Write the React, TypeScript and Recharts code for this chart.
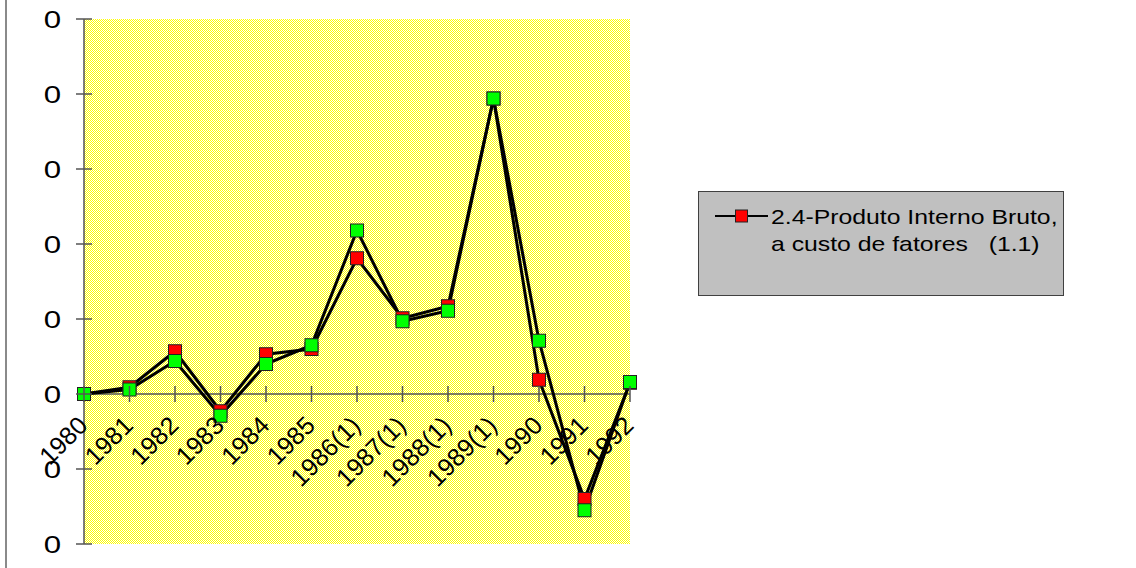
import { CartesianGrid, Legend, Line, LineChart, ReferenceLine, XAxis, YAxis } from "recharts";

const years = [
  "1980", "1981", "1982", "1983", "1984", "1985", "1986(1)",
  "1987(1)", "1988(1)", "1989(1)", "1990", "1991", "1992"
];
const pibCustoFatores = [0, 0.09, 0.57, -0.23, 0.53, 0.6, 1.81, 1.01, 1.17, 3.94, 0.19, -1.4, 0.15];
const pibPrecosMercado = [0, 0.06, 0.44, -0.29, 0.4, 0.65, 2.18, 0.97, 1.11, 3.94, 0.71, -1.55, 0.16];
const yTicks = [-2, -1, 0, 1, 2, 3, 4, 5];
const legendLines = ["2.4-Produto Interno Bruto,", "a custo de fatores   (1.1)"];

const W = 1136;
const H = 568;
const PLOT_LEFT = 84;
const PLOT_TOP = 19;
const PLOT_BOTTOM = 544;
const Y_MIN = -2;
const Y_MAX = 5;
const ZERO_Y = PLOT_TOP + (Y_MAX / (Y_MAX - Y_MIN)) * (PLOT_BOTTOM - PLOT_TOP);
const FONT = '"Liberation Sans", Arial, sans-serif';
const AXIS = "#555";

const data = years.map((year, i) => ({
  year,
  custo: pibCustoFatores[i],
  mercado: pibPrecosMercado[i]
}));

function SquareDot(color: string) {
  return (props: any) => {
    const { cx, cy, index } = props;
    if (cx == null || cy == null) return <g key={index} />;
    return (
      <rect
        key={index}
        x={cx - 6.5}
        y={cy - 6.5}
        width={13}
        height={13}
        fill={color}
        stroke="#222"
        strokeWidth={1}
      />
    );
  };
}

function YTick(props: any) {
  const { y } = props;
  return (
    <g>
      <line x1={PLOT_LEFT - 8} x2={PLOT_LEFT + 8} y1={y} y2={y} stroke={AXIS} strokeWidth={1.5} />
      <text
        transform={`translate(61, ${y}) scale(1.3, 1)`}
        textAnchor="end"
        dy="0.36em"
        fontSize={24}
        fontFamily={FONT}
        fill="#000"
      >
        0
      </text>
    </g>
  );
}

function XTick(props: any) {
  const { x, payload } = props;
  return (
    <g>
      <line x1={x} x2={x} y1={ZERO_Y - 8} y2={ZERO_Y + 8} stroke={AXIS} strokeWidth={1.5} />
      <text
        transform={`translate(${x + 5}, ${ZERO_Y + 33}) rotate(-45)`}
        textAnchor="end"
        fontSize={25}
        fontFamily={FONT}
        fill="#000"
      >
        {payload.value}
      </text>
    </g>
  );
}

function LegendBox() {
  return (
    <div
      style={{
        position: "relative",
        width: 366,
        height: 105,
        boxSizing: "border-box",
        background: "#c0c0c0",
        border: "1px solid #404040",
        fontFamily: FONT
      }}
    >
      <svg width={56} height={16} style={{ position: "absolute", left: 16, top: 16 }}>
        <line x1={0} x2={53} y1={8} y2={8} stroke="#000" strokeWidth={2} />
        <rect x={20.5} y={2} width={12} height={12} fill="#ff0000" stroke="#222" strokeWidth={1} />
      </svg>
      <div
        style={{
          position: "absolute",
          left: 72,
          top: 11,
          fontSize: 21,
          lineHeight: "27px",
          whiteSpace: "pre",
          color: "#000",
          transform: "scaleX(1.18)",
          transformOrigin: "left top"
        }}
      >
        {legendLines.map((l) => (
          <div key={l}>{l}</div>
        ))}
      </div>
    </div>
  );
}

export default function App() {
  return (
    <div style={{ position: "absolute", left: 0, top: 0, width: W, height: H, background: "#fff" }}>
      <svg width={0} height={0} style={{ position: "absolute" }}>
        <defs>
          <pattern id="checker" width={2} height={2} patternUnits="userSpaceOnUse">
            <rect width={2} height={2} fill="#ffffff" />
            <rect x={0} y={0} width={1} height={1} fill="#ffff00" />
            <rect x={1} y={1} width={1} height={1} fill="#ffff00" />
          </pattern>
        </defs>
      </svg>
      <div style={{ position: "absolute", left: 5, top: 0, width: 2, height: H, background: "#8a8a8a" }} />
      <LineChart
        width={W}
        height={H}
        data={data}
        margin={{ top: PLOT_TOP, right: W - 630, bottom: 0, left: 8 }}
      >
        <CartesianGrid horizontal={false} vertical={false} fill="url(#checker)" />
        <XAxis
          dataKey="year"
          height={H - PLOT_BOTTOM}
          axisLine={false}
          tickLine={false}
          interval={0}
          tick={<XTick />}
        />
        <YAxis
          width={PLOT_LEFT - 8}
          domain={[Y_MIN, Y_MAX]}
          ticks={yTicks}
          allowDataOverflow
          axisLine={{ stroke: AXIS, strokeWidth: 1.5 }}
          tickLine={false}
          tick={<YTick />}
        />
        <ReferenceLine y={0} stroke={AXIS} strokeWidth={1.5} />
        <Legend
          layout="vertical"
          align="center"
          verticalAlign="middle"
          wrapperStyle={{ position: "absolute", left: 698, top: 191, width: 366, height: 105 }}
          content={() => <LegendBox />}
        />
        <Line
          dataKey="custo"
          stroke="#000"
          strokeWidth={3}
          dot={SquareDot("#ff0000")}
          activeDot={false}
          isAnimationActive={false}
        />
        <Line
          dataKey="mercado"
          stroke="#000"
          strokeWidth={3}
          dot={SquareDot("#00ff00")}
          activeDot={false}
          legendType="none"
          isAnimationActive={false}
        />
      </LineChart>
    </div>
  );
}
